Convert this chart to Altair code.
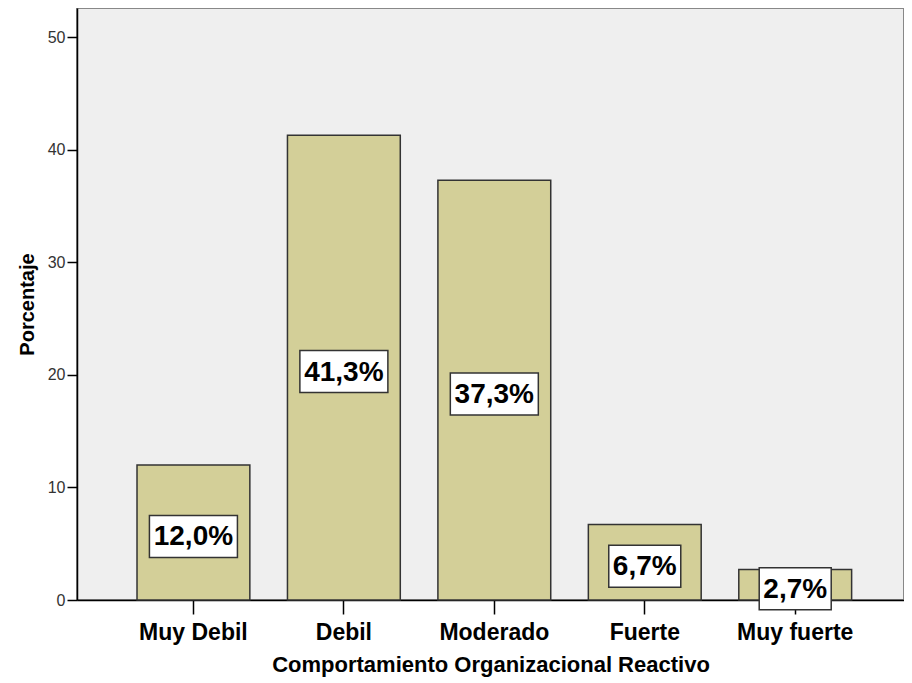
import altair as alt
import pandas as pd

categories = ["Muy Debil", "Debil", "Moderado", "Fuerte", "Muy fuerte"]
percentages = [12.0, 41.3, 37.3, 6.7, 2.7]
labels = ["12,0%", "41,3%", "37,3%", "6,7%", "2,7%"]

df = pd.DataFrame({"cat": categories, "pct": percentages, "lab": labels})

FONT = "Liberation Sans"
PATH_NARROW = "M-1,-0.5833L1,-0.5833L1,0.5833L-1,0.5833Z"   # 72 x 42 box
PATH_WIDE = "M-1,-0.4773L1,-0.4773L1,0.4773L-1,0.4773Z"     # 88 x 42 box

x_enc = alt.X(
    "cat:N",
    sort=categories,
    scale=alt.Scale(paddingInner=0.25, paddingOuter=0.3735, align=0.534),
    axis=alt.Axis(
        title="Comportamiento Organizacional Reactivo",
        labelAngle=0,
        labelFont=FONT,
        labelFontSize=23,
        labelFontWeight="bold",
        labelColor="#000000",
        labelBaseline="alphabetic",
        labelPadding=25,
        tickSize=14,
        tickColor="#000000",
        tickWidth=1.5,
        domainColor="#000000",
        domainWidth=1.5,
        titleFont=FONT,
        titleFontSize=22,
        titleFontWeight="bold",
        titleColor="#000000",
        titleBaseline="alphabetic",
        titleY=71,
    ),
)

y_axis = alt.Axis(
    title="Porcentaje",
    values=[0, 10, 20, 30, 40, 50],
    grid=False,
    tickSize=10,
    tickColor="#000000",
    tickWidth=1.5,
    labelFont=FONT,
    labelFontSize=16,
    labelColor="#333333",
    labelPadding=2,
    domainColor="#000000",
    domainWidth=1.5,
    titleFont=FONT,
    titleFontSize=20,
    titleFontWeight="bold",
    titleColor="#000000",
    titleAngle=270,
    titleX=-44,
    titleY=296,
    titleAlign="center",
    titleBaseline="alphabetic",
)

y_scale = alt.Scale(domain=[0, 52.6], nice=False, zero=True)

base = alt.Chart(df)

bars = base.mark_bar(fill="#d3cf98", stroke="#333333", strokeWidth=1.5).encode(
    x=x_enc,
    y=alt.Y("pct:Q", scale=y_scale, axis=y_axis),
)

boxes = base.transform_calculate(
    mid="datum.pct / 2",
    n="length(datum.lab)",
    bs="pow(16 * length(datum.lab) + 8, 2)",
).mark_point(
    filled=True, fill="white", stroke="#333333", strokeWidth=1.5, opacity=1, yOffset=4
).encode(
    x=alt.X("cat:N", sort=categories),
    y=alt.Y("mid:Q"),
    shape=alt.Shape("n:O", scale=alt.Scale(domain=[4, 5], range=[PATH_NARROW, PATH_WIDE]), legend=None),
    size=alt.Size("bs:Q", scale=None),
)

texts = base.transform_calculate(mid="datum.pct / 2").mark_text(
    font=FONT, fontSize=28, fontWeight="bold", color="#000000", baseline="middle", dy=5
).encode(
    x=alt.X("cat:N", sort=categories),
    y=alt.Y("mid:Q"),
    text="lab:N",
)

chart = (
    alt.layer(bars, boxes, texts)
    .properties(
        width=827,
        height=592,
        autosize="none",
        padding={"left": 69, "top": 0, "right": 0, "bottom": 80},
        background="white",
    )
    .configure_view(fill="#efefef", stroke="#888888", strokeWidth=2)
)

chart.save("out.html", embed_options={"renderer": "svg", "actions": False})
